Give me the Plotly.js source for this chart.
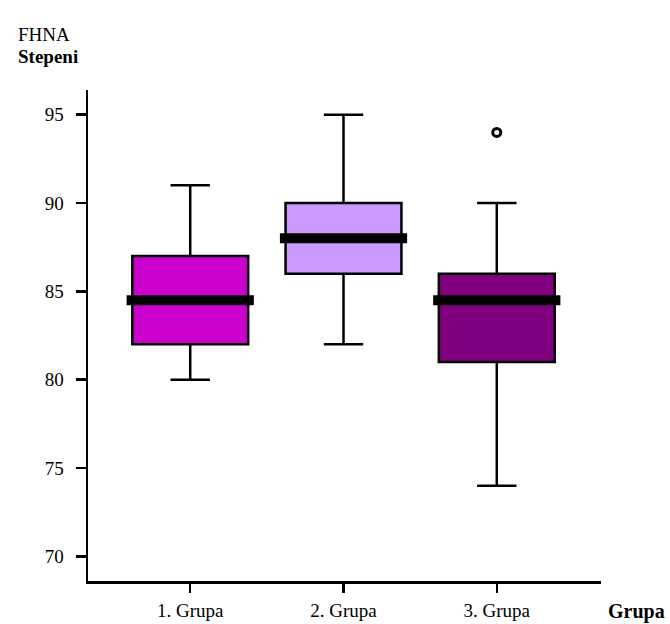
<!DOCTYPE html>
<html>
<head>
<meta charset="utf-8">
<script src="https://cdn.plot.ly/plotly-3.0.1.min.js"></script>
<style>html,body{margin:0;padding:0;background:#fff;}#chart{width:670px;height:624px;}</style>
</head>
<body>
<div id="chart"></div>
<script>
const categories = ["1. Grupa", "2. Grupa", "3. Grupa"];
const lowerWhisker = [80, 82, 74];
const q1Values = [82, 86, 81];
const medianValues = [84.5, 88, 84.5];
const q3Values = [87, 90, 86];
const upperWhisker = [91, 95, 90];
const outlierGroup = [2];
const outlierValues = [94];
const boxColors = ["#CC00CC", "#CC99FF", "#800080"];
const yTicks = [70, 75, 80, 85, 90, 95];

const positions = categories.map((c, i) => i);
const boxWidth = 0.756;
const medianHalf = 0.415;
const FONT = "Liberation Serif, Times New Roman, serif";

const traces = [];
categories.forEach((c, i) => {
  traces.push({
    type: "box",
    x: [positions[i]],
    q1: [q1Values[i]],
    median: [medianValues[i]],
    q3: [q3Values[i]],
    lowerfence: [lowerWhisker[i]],
    upperfence: [upperWhisker[i]],
    width: boxWidth,
    whiskerwidth: 0.34,
    fillcolor: boxColors[i],
    line: {color: "#000", width: 2.5},
    boxpoints: false,
    hoverinfo: "skip",
    showlegend: false
  });
  traces.push({
    type: "scatter",
    mode: "lines",
    x: [positions[i] - medianHalf, positions[i] + medianHalf],
    y: [medianValues[i], medianValues[i]],
    line: {color: "#000", width: 10},
    hoverinfo: "skip",
    showlegend: false
  });
});
traces.push({
  type: "scatter",
  mode: "markers",
  x: outlierGroup.map(g => positions[g]),
  y: outlierValues,
  marker: {symbol: "circle-open", size: 8, color: "#000", line: {width: 3, color: "#000"}},
  hoverinfo: "skip",
  showlegend: false
});

const layout = {
  width: 670, height: 624,
  margin: {l: 88, r: 69, t: 90, b: 43},
  paper_bgcolor: "#fff", plot_bgcolor: "#fff",
  font: {family: FONT, size: 19, color: "#000"},
  showlegend: false,
  xaxis: {
    type: "linear",
    range: [-0.667, 2.68],
    tickmode: "array",
    tickvals: positions,
    ticktext: categories,
    ticks: "outside", ticklen: 9, tickwidth: 2.5, tickcolor: "#000",
    showline: true, linecolor: "#000", linewidth: 2.5,
    showgrid: false, zeroline: false,
    ticklabelstandoff: 2,
    tickfont: {family: FONT, size: 19, color: "#000"}
  },
  yaxis: {
    range: [68.6, 96.4],
    tickmode: "array",
    tickvals: yTicks,
    ticks: "outside", ticklen: 10, tickwidth: 2.5, tickcolor: "#000",
    showline: true, linecolor: "#000", linewidth: 2.5,
    showgrid: false, zeroline: false,
    ticklabelstandoff: 8,
    tickfont: {family: FONT, size: 19, color: "#000"}
  },
  annotations: [
    {text: "FHNA", xref: "paper", yref: "paper", x: -0.14, y: 1.114, xanchor: "left", yanchor: "middle", showarrow: false, font: {family: FONT, size: 19, color: "#000"}},
    {text: "<b>Stepeni</b>", xref: "paper", yref: "paper", x: -0.14, y: 1.069, xanchor: "left", yanchor: "middle", showarrow: false, font: {family: FONT, size: 19, color: "#000"}},
    {text: "<b>Grupa</b>", xref: "paper", yref: "paper", x: 1.01, y: -0.062, xanchor: "left", yanchor: "middle", showarrow: false, font: {family: FONT, size: 20, color: "#000"}}
  ]
};

Plotly.newPlot("chart", traces, layout, {staticPlot: true, displayModeBar: false});
</script>
</body>
</html>
